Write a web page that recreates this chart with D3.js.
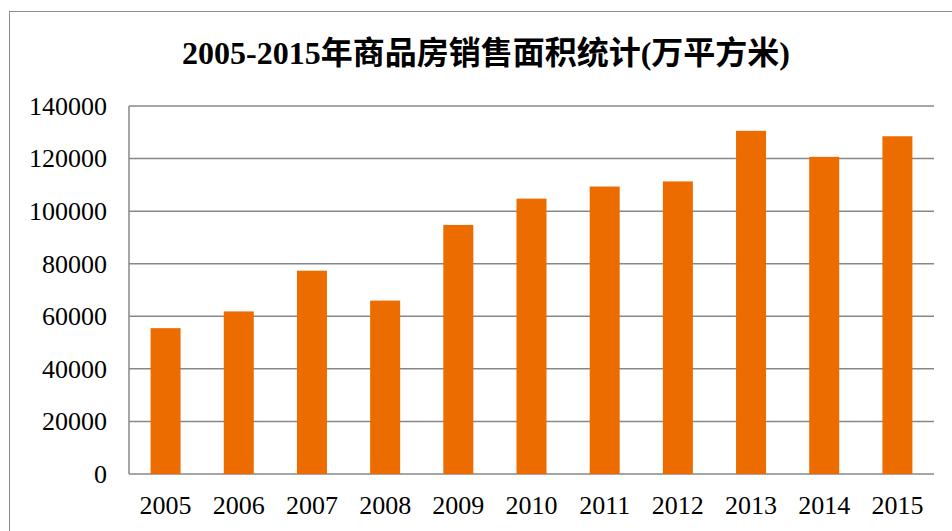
<!DOCTYPE html>
<html>
<head>
<meta charset="utf-8">
<script src="https://cdn.jsdelivr.net/npm/d3@7"></script>
<style>
  body { margin: 0; background: #fff; }
  svg { display: block; }
</style>
</head>
<body>
<svg id="chart"></svg>
<script>
const years = ['2005', '2006', '2007', '2008', '2009', '2010', '2011', '2012', '2013', '2014', '2015']
const areas = [55486, 61857, 77355, 65970, 94755, 104765, 109367, 111304, 130551, 120649, 128495]
const yTicks = [0, 20000, 40000, 60000, 80000, 100000, 120000, 140000]
const title = '2005-2015年商品房销售面积统计(万平方米)'

const width = 952, height = 531
const margin = {top: 106, right: 18, bottom: 57, left: 129}
const font = "Liberation Serif, Noto Sans CJK SC, serif"

const svg = d3.select('#chart')
    .attr('width', width)
    .attr('height', height)

// outer frame
svg.append('rect')
    .attr('x', 9.5).attr('y', 11.5)
    .attr('width', 1000).attr('height', 1000)
    .attr('fill', 'none')
    .attr('stroke', '#8c8c8c')
    .attr('stroke-width', 1)

svg.append('text')
    .attr('x', 486)
    .attr('y', 64)
    .attr('text-anchor', 'middle')
    .attr('font-family', font)
    .attr('font-weight', 'bold')
    .attr('font-size', 32)
    .text(title)

const x = d3.scaleBand()
    .domain(years)
    .range([margin.left, width - margin.right])
    .paddingInner(0.59)
    .paddingOuter(0.295)

const y = d3.scaleLinear()
    .domain([0, 140000])
    .range([height - margin.bottom, margin.top])

// grid lines
svg.append('g')
    .selectAll('line')
    .data(yTicks)
    .join('line')
        .attr('x1', margin.left)
        .attr('x2', width - margin.right)
        .attr('y1', d => y(d))
        .attr('y2', d => y(d))
        .attr('stroke', '#878787')
        .attr('stroke-width', 1.5)

svg.append('g')
    .selectAll('rect')
    .data(areas)
    .join('rect')
        .attr('x', (d, i) => x(years[i]))
        .attr('y', d => y(d))
        .attr('width', x.bandwidth())
        .attr('height', d => y(0) - y(d))
        .attr('fill', '#ec6c00')

// left axis line
svg.append('line')
    .attr('x1', margin.left).attr('x2', margin.left)
    .attr('y1', y(140000)).attr('y2', y(0))
    .attr('stroke', '#878787')
    .attr('stroke-width', 1.5)

const yAxis = svg.append('g')
    .attr('transform', `translate(${margin.left},0)`)
    .call(d3.axisLeft(y).tickValues(yTicks).tickFormat(d3.format('d')).tickSize(0).tickPadding(22))
    .attr('font-family', font)
    .attr('font-size', 26)
yAxis.select('.domain').remove()
yAxis.selectAll('text').attr('fill', '#000')

const xAxis = svg.append('g')
    .attr('transform', `translate(0,${height - margin.bottom})`)
    .call(d3.axisBottom(x).tickSize(0).tickPadding(22))
    .attr('font-family', font)
    .attr('font-size', 26)
xAxis.select('.domain').remove()
xAxis.selectAll('text').attr('fill', '#000')
</script>
</body>
</html>
